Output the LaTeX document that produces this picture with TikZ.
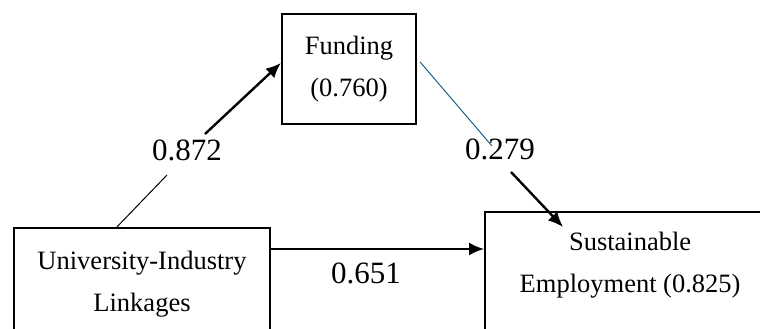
\documentclass[tikz,border=0pt]{standalone}
\usepackage{fontspec}
\setmainfont{Liberation Serif}
\usetikzlibrary{arrows.meta,calc}
\definecolor{pathblue}{RGB}{31,96,138}
\begin{document}
\begin{tikzpicture}[x=1pt,y=1pt,
		box/.style={draw,line width=2.2pt,align=center,inner sep=0pt,font=\fontsize{26.5}{42}\selectfont},
		coef/.style={inner sep=0pt,font=\fontsize{31}{36}\selectfont},
		path/.style={line width=2.4pt,-{Latex[length=15pt,width=13pt]}},
		thinpath/.style={line width=1pt}]
	\useasboundingbox (0,0) rectangle (760,329);
	\node [box,minimum width=134pt,minimum height=110pt] (fund) at (349,260) {Funding\\(0.760)};
	\node [box,minimum width=256pt,minimum height=112pt] (ui) at (142,45) {University-Industry\\Linkages};
	\node [box,anchor=north west,minimum width=290pt,inner ysep=20pt,text depth=60pt] (se) at (484,118) {Sustainable\\Employment (0.825)};
	\node [coef] (b1) at (187,179) {0.872};
	\node [coef] (b2) at (500,180) {0.279};
	\node [coef] (b3) at (366,56) {0.651};
	\draw [thinpath] ($(ui.north)+(-25,0)$) -- ($(b1)+(-20,-25)$);
	\draw [path] ($(b1)+(18,16)$) -- ($(fund.west)+(0,6)$);
	\draw [thinpath,pathblue] ($(fund.east)+(3,7)$) -- ($(b2)+(-8,3)$);
	\draw [path] ($(b2)+(11,-23)$) -- ($(se.north west)+(79,-16)$);
	\draw [path] ($(ui.east)+(0,35)$) -- ($(ui.east)+(213,35)$);
\end{tikzpicture}
\end{document}
